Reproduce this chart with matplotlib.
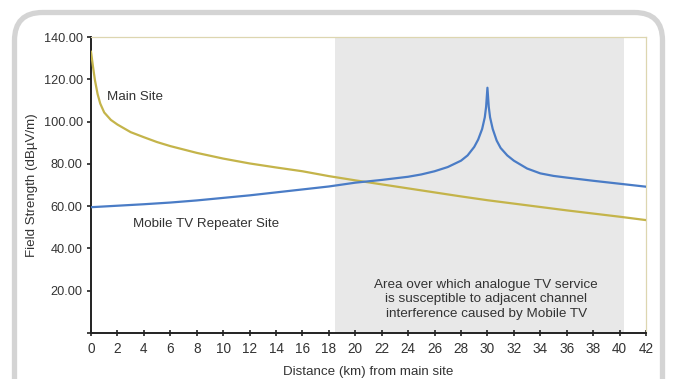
import matplotlib
matplotlib.use("Agg")
import matplotlib.pyplot as plt
from matplotlib.patches import FancyBboxPatch
from matplotlib.transforms import IdentityTransform

plt.rcParams['font.family'] = ['Liberation Sans', 'DejaVu Sans']

# field strength from the main transmitter (dBuV/m) vs distance (km)
main_km = [0, 0.15, 0.3, 0.5, 0.7, 1, 1.5, 2, 3, 4, 5, 6, 7, 8, 10, 12, 14, 16,
           18, 20, 22, 24, 26, 28, 30, 32, 34, 36, 38, 40, 42]
main_fs = [133, 126, 119.5, 113, 108.5, 104.3, 100.8, 98.6, 95.0, 92.6, 90.3,
           88.4, 86.8, 85.2, 82.5, 80.2, 78.3, 76.5, 74.2, 72.2, 70.3, 68.4,
           66.5, 64.6, 62.8, 61.2, 59.6, 58.0, 56.5, 55.0, 53.4]

# field strength from the mobile TV repeater located at 30 km
rep_km = [0, 2, 4, 6, 8, 10, 12, 14, 16, 18, 20, 22, 24, 25, 26, 27, 28, 28.5,
          29, 29.3, 29.6, 29.8, 29.9, 30, 30.1, 30.2, 30.4, 30.7, 31, 31.5, 32,
          33, 34, 35, 36, 38, 40, 42]
rep_fs = [59.5, 60.2, 60.9, 61.7, 62.7, 63.9, 65.1, 66.5, 67.9, 69.3, 71.1,
          72.4, 73.9, 75.0, 76.5, 78.5, 81.5, 84.0, 88.0, 91.5, 96.5, 102.0,
          107.0, 116.0, 107.0, 102.0, 96.5, 91.0, 87.5, 84.0, 81.5, 77.8, 75.5,
          74.3, 73.5, 72.0, 70.6, 69.2]

# interference zone
zone = (18.5, 40.35)

x_ticks = list(range(0, 43, 2))
y_ticks = [0, 20, 40, 60, 80, 100, 120, 140]

fig = plt.figure(figsize=(6.75, 3.79), dpi=100)
ax = fig.add_axes([91 / 675, 46 / 379, 555 / 675, 296 / 379])

ax.axvspan(zone[0], zone[1], color='#e8e8e8', lw=0, zorder=0)
ax.plot(main_km, main_fs, color='#c4b44a', lw=1.6, zorder=3)
ax.plot(rep_km, rep_fs, color='#4a7cc6', lw=1.6, zorder=3)

ax.set_xlim(0, 42)
ax.set_ylim(0, 140)
ax.set_xticks(x_ticks)
ax.set_xticklabels([str(v) for v in x_ticks])
ax.set_yticks(y_ticks)
ax.set_yticklabels(['' if v == 0 else '%.2f' % v for v in y_ticks])

for s in ['top', 'right']:
    ax.spines[s].set_color('#ddd6b0')
    ax.spines[s].set_linewidth(0.9)
for s in ['left', 'bottom']:
    ax.spines[s].set_color('#222222')
    ax.spines[s].set_linewidth(1.4)

ax.tick_params(axis='x', direction='inout', length=5, width=1.2, colors='#222222',
               labelsize=9.8, labelcolor='#333333', pad=4)
ax.tick_params(axis='y', direction='out', length=3, width=1.2, colors='#222222',
               labelsize=9.2, labelcolor='#333333', pad=3)

ax.set_xlabel('Distance (km) from main site', fontsize=9.6, color='#333333', labelpad=7)
ax.set_ylabel('Field Strength (dB\u00b5V/m)', fontsize=9.6, color='#333333', labelpad=4)

ax.text(1.2, 111.5, 'Main Site', fontsize=9.6, color='#333333', va='center')
ax.text(3.2, 51.5, 'Mobile TV Repeater Site', fontsize=9.6, color='#333333', va='center')
ax.text(29.9, 16.0, 'Area over which analogue TV service\nis susceptible to adjacent channel\n'
        'interference caused by Mobile TV', fontsize=9.7, color='#333333',
        ha='center', va='center', linespacing=1.27)

# rounded grey border around the chart
frame = FancyBboxPatch((14.5, -60), 648, 426.5, boxstyle='round,pad=0,rounding_size=28',
                       transform=IdentityTransform(), fill=False, ec='#d4d4d4', lw=3.8)
fig.add_artist(frame)

fig.savefig('out.png', dpi=100)
